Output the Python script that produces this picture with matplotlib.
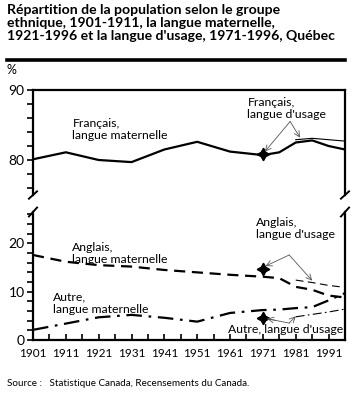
import numpy as np
import matplotlib
matplotlib.use("Agg")
import matplotlib.pyplot as plt

plt.rcParams['font.family'] = ['Lato', 'DejaVu Sans']

# Data
years = [1901, 1911, 1921, 1931, 1941, 1951, 1961, 1971, 1976, 1981, 1986, 1991, 1996]
francais_mat = [80.1, 81.1, 80.0, 79.7, 81.5, 82.6, 81.2, 80.7, 81.1, 82.5, 82.8, 82.0, 81.5]
anglais_mat = [17.6, 16.2, 15.5, 15.2, 14.5, 14.0, 13.5, 13.1, 12.8, 11.0, 10.4, 9.2, 8.8]
autre_mat = [2.1, 3.4, 4.7, 5.2, 4.6, 3.8, 5.6, 6.2, 6.3, 6.6, 6.8, 8.2, 9.7]

usage_years = [1971, 1981, 1986, 1991, 1996]
francais_usage = [80.8, 82.9, 83.1, 82.9, 82.7]
anglais_usage = [14.7, 12.4, 11.9, 11.3, 10.9]
autre_usage = [4.5, 4.8, 5.3, 5.8, 6.4]

xtick_labels = ['1901', '1911', '1921', '1931', '1941', '1951', '1961', '1971', '1981', '1991']
xtick_pos = [1901, 1911, 1921, 1931, 1941, 1951, 1961, 1971, 1981, 1991]

W, H = 361, 400
fig = plt.figure(figsize=(W / 100, H / 100), dpi=100)

def px(x0, y0, x1, y1):
    # pixel box -> figure fraction [left, bottom, width, height]
    return [x0 / W, 1 - y1 / H, (x1 - x0) / W, (y1 - y0) / H]

ax_top = fig.add_axes(px(33, 90, 345, 195))
ax_bot = fig.add_axes(px(33, 212, 345, 340))

star = (4, 1, 0)
thick = 1.6
thin = 0.8

# top panel: francais
ax_top.plot(years, francais_mat, color='black', lw=thick, solid_joinstyle='round')
ax_top.plot(usage_years[1:], francais_usage[1:], color='black', lw=thin)
ax_top.plot(usage_years[0], francais_usage[0], marker=star, ms=9, color='black')

# bottom panel: anglais and autre
ax_bot.plot(years, anglais_mat, color='black', lw=thick, dashes=(5, 3))
ax_bot.plot(usage_years[1:], anglais_usage[1:], color='black', lw=thin, dashes=(7, 4))
ax_bot.plot(usage_years[0], anglais_usage[0], marker=star, ms=9, color='black')

ax_bot.plot(years, autre_mat, color='black', lw=thick, dashes=(7, 3, 1.2, 3))
ax_bot.plot(usage_years[1:], autre_usage[1:], color='black', lw=thin, dashes=(8, 3, 1.5, 3))
ax_bot.plot(usage_years[0], autre_usage[0], marker=star, ms=9, color='black')

for ax in (ax_top, ax_bot):
    ax.set_xlim(1901, 1996)
    for s in ax.spines.values():
        s.set_linewidth(1.6)
    ax.tick_params(axis='y', direction='out', length=4, width=1.2, labelsize=10, pad=2)
    ax.tick_params(axis='y', which='minor', direction='out', length=4, width=1.2)

ax_top.set_ylim(75, 90)
ax_top.set_yticks([80, 90])
ax_top.set_yticks(np.arange(76, 90, 2), minor=True)
ax_top.spines['bottom'].set_visible(False)
ax_top.set_xticks([])

ax_bot.set_ylim(0, 26.5)
ax_bot.set_yticks([0, 10, 20])
ax_bot.set_yticks(np.arange(2, 27, 2), minor=True)
ax_bot.spines['top'].set_visible(False)
ax_bot.set_xticks(np.arange(1901, 1997, 5), minor=True)
ax_bot.set_xticks(xtick_pos)
ax_bot.set_xticklabels(xtick_labels)
ax_bot.tick_params(axis='x', which='both', direction='in', length=4, width=1.2,
                   labelsize=8.5, pad=6)

# break marks
for ax, yb in ((ax_top, 0), (ax_bot, 1)):
    for xb in (0, 1):
        ax.plot([xb - 0.013, xb + 0.013], [yb - 0.035, yb + 0.035], transform=ax.transAxes,
                color='black', lw=1.4, clip_on=False)

# annotations
tsize = 8.8
ax_top.text(1913, 86.0, "Français,\nlangue maternelle", fontsize=tsize, va='top', linespacing=1.1)
ax_top.text(1966.3, 89.0, "Français,\nlangue d'usage", fontsize=tsize, va='top', linespacing=1.1)
arrow = dict(arrowstyle='->', color='#555555', lw=0.6, shrinkA=0, shrinkB=0)
for tip in ((1971.6, 81.2), (1982.3, 83.2)):
    ax_top.annotate("", xy=tip, xytext=(1979.3, 85.5), arrowprops=arrow)

ax_bot.text(1913, 20.2, "Anglais,\nlangue maternelle", fontsize=tsize, va='top', linespacing=1.1)
ax_bot.text(1907, 10.0, "Autre,\nlangue maternelle", fontsize=tsize, va='top', linespacing=1.1)
ax_bot.text(1969.0, 25.5, "Anglais,\nlangue d'usage", fontsize=tsize, va='top', linespacing=1.1)
ax_bot.text(1995.6, 3.4, "Autre, langue d'usage", fontsize=tsize, va='top', ha='right')
for tip in ((1971.8, 15.3), (1986.0, 12.3)):
    ax_bot.annotate("", xy=tip, xytext=(1979.0, 17.6), arrowprops=arrow)
ax_bot.plot([1972.3, 1979.0], [4.4, 3.5], color='#555555', lw=0.6)
ax_bot.annotate("", xy=(1972.3, 4.4), xytext=(1975.0, 4.05), arrowprops=arrow)
ax_bot.annotate("", xy=(1981.0, 4.9), xytext=(1979.0, 3.5), arrowprops=arrow)

# title, rule, units, source
fig.text(7 / W, 1 - 4 / H, "Répartition de la population selon le groupe\n"
         "ethnique, 1901-1911, la langue maternelle,\n"
         "1921-1996 et la langue d'usage, 1971-1996, Québec",
         fontsize=10.1, fontweight='bold', va='top', ha='left', linespacing=1.12)
fig.add_artist(plt.Line2D([7 / W, 345 / W], [1 - 60 / H, 1 - 60 / H], color='black', lw=2.6))
fig.text(7 / W, 1 - 70 / H, "%", fontsize=9, va='center', ha='left')
fig.text(7 / W, 1 - 383 / H, "Source :   Statistique Canada, Recensements du Canada.",
         fontsize=7.1, va='center', ha='left')

fig.savefig("out.png", dpi=100)
